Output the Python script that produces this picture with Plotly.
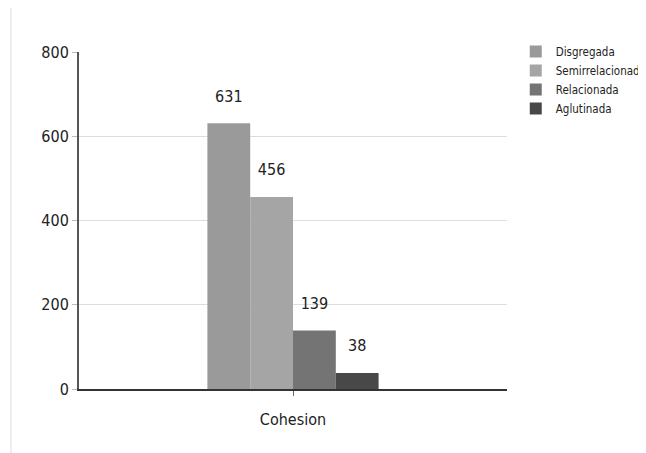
import plotly.graph_objects as go

categories = ["Cohesion"]
series_names = ["Disgregada", "Semirrelacionada", "Relacionada", "Aglutinada"]
series_values = [[631], [456], [139], [38]]
colors = ["#9a9a9a", "#a5a5a5", "#747474", "#484848"]
y_ticks = [0, 200, 400, 600, 800]

FONT = "DejaVu Sans Condensed, Liberation Sans Narrow, Arial Narrow, sans-serif"

fig = go.Figure()
for name, vals, col in zip(series_names, series_values, colors):
    fig.add_trace(go.Bar(
        x=categories, y=vals, name=name,
        marker=dict(color=col, line=dict(width=0)),
        text=vals,
        texttemplate="<span style='font-size:16px'>%{y}</span><br> ",
        textposition="outside",
        textfont=dict(family=FONT, size=12, color="#222"),
        cliponaxis=False,
    ))

fig.update_layout(
    width=646, height=453,
    margin=dict(l=71, r=147, t=44, b=72, autoexpand=False),
    paper_bgcolor="white", plot_bgcolor="white",
    barmode="group", bargap=0.6, bargroupgap=0,
    font=dict(family=FONT, size=14, color="#222"),
    showlegend=True,
    legend=dict(xref="container", yref="container", x=0.786, y=0.936,
                xanchor="left", yanchor="top",
                font=dict(family=FONT, size=11.5, color="#222"),
                itemwidth=30, tracegroupgap=0, bgcolor="rgba(0,0,0,0)"),
    xaxis=dict(showline=True, linecolor="#333", linewidth=2,
               ticks="outside", ticklen=5, tickcolor="#666", tickwidth=1,
               ticklabelstandoff=10,
               tickfont=dict(family=FONT, size=16, color="#222"),
               showgrid=False, zeroline=False),
    yaxis=dict(range=[0, 800], tickvals=y_ticks, showline=True, linecolor="#555", linewidth=2,
               ticks="outside", ticklen=5, tickcolor="#bbb",
               gridcolor="#dddddd", gridwidth=1, zeroline=False,
               tickfont=dict(family=FONT, size=16, color="#222")),
    shapes=[dict(type="line", xref="paper", yref="paper", x0=-0.159, x1=-0.159,
                 y0=-0.2, y1=1.2, line=dict(color="#dddddd", width=1))],
)

fig.write_html("out.html")
